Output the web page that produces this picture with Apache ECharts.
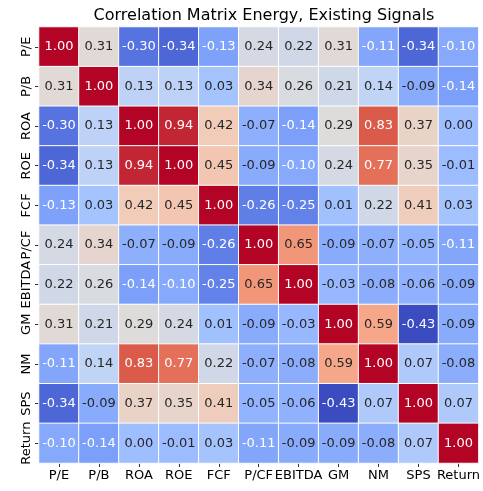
<!DOCTYPE html>
<html>
<head>
<meta charset="utf-8">
<script src="https://cdn.jsdelivr.net/npm/echarts@6/dist/echarts.min.js"></script>
<style>
  html, body { margin: 0; padding: 0; background: #fff; }
  #chart { width: 483px; height: 491px; }
</style>
</head>
<body>
<div id="chart"></div>
<script>
var labels = ["P/E", "P/B", "ROA", "ROE", "FCF", "P/CF", "EBITDA", "GM", "NM", "SPS", "Return"];

var rowPE     = [1.00, 0.31, -0.30, -0.34, -0.13, 0.24, 0.22, 0.31, -0.11, -0.34, -0.10];
var rowPB     = [0.31, 1.00, 0.13, 0.13, 0.03, 0.34, 0.26, 0.21, 0.14, -0.09, -0.14];
var rowROA    = [-0.30, 0.13, 1.00, 0.94, 0.42, -0.07, -0.14, 0.29, 0.83, 0.37, 0.00];
var rowROE    = [-0.34, 0.13, 0.94, 1.00, 0.45, -0.09, -0.10, 0.24, 0.77, 0.35, -0.01];
var rowFCF    = [-0.13, 0.03, 0.42, 0.45, 1.00, -0.26, -0.25, 0.01, 0.22, 0.41, 0.03];
var rowPCF    = [0.24, 0.34, -0.07, -0.09, -0.26, 1.00, 0.65, -0.09, -0.07, -0.05, -0.11];
var rowEBITDA = [0.22, 0.26, -0.14, -0.10, -0.25, 0.65, 1.00, -0.03, -0.08, -0.06, -0.09];
var rowGM     = [0.31, 0.21, 0.29, 0.24, 0.01, -0.09, -0.03, 1.00, 0.59, -0.43, -0.09];
var rowNM     = [-0.11, 0.14, 0.83, 0.77, 0.22, -0.07, -0.08, 0.59, 1.00, 0.07, -0.08];
var rowSPS    = [-0.34, -0.09, 0.37, 0.35, 0.41, -0.05, -0.06, -0.43, 0.07, 1.00, 0.07];
var rowReturn = [-0.10, -0.14, 0.00, -0.01, 0.03, -0.11, -0.09, -0.09, -0.08, 0.07, 1.00];

var rows = [rowPE, rowPB, rowROA, rowROE, rowFCF, rowPCF, rowEBITDA, rowGM, rowNM, rowSPS, rowReturn];

// coolwarm stops
var coolwarm = ["#3b4cc0", "#5977e3", "#7b9ff9", "#9ebeff", "#c0d4f5", "#dddcdc",
                "#f2cbb7", "#f7ac8e", "#ee8468", "#d65244", "#b40426"];

var data = [];
var vmin = Infinity, vmax = -Infinity;
rows.forEach(function(r) {
    r.forEach(function(v) {
        if (v < vmin) vmin = v;
        if (v > vmax) vmax = v;
    });
});
rows.forEach(function(r, i) {
    r.forEach(function(v, j) {
        var white = v <= -0.10 || v >= 0.75;
        data.push({
            value: [j, i, v],
            label: { color: white ? "#ffffff" : "#262626" }
        });
    });
});

var chart = echarts.init(document.getElementById("chart"));
var font = "DejaVu Sans";
chart.setOption({
    animation: false,
    title: {
        text: "Correlation Matrix Energy, Existing Signals",
        left: 259,
        top: 3,
        textAlign: "center",
        textStyle: { fontFamily: font, fontSize: 16, fontWeight: "normal", color: "#000" }
    },
    grid: { left: 39, right: 4, top: 27, bottom: 28 },
    xAxis: {
        type: "category",
        data: labels,
        axisLine: { show: false },
        axisTick: { show: true, alignWithLabel: true, length: 4, lineStyle: { color: "#333" } },
        axisLabel: { fontFamily: font, fontSize: 13, color: "#000", margin: 6, interval: 0 },
        splitLine: { show: false }
    },
    yAxis: {
        type: "category",
        data: labels,
        inverse: true,
        axisLine: { show: false },
        axisTick: { show: true, alignWithLabel: true, length: 4, lineStyle: { color: "#333" } },
        axisLabel: { fontFamily: font, fontSize: 13, color: "#000", margin: 6, rotate: 90, interval: 0 },
        splitLine: { show: false }
    },
    visualMap: {
        show: false,
        min: vmin,
        max: vmax,
        dimension: 2,
        inRange: { color: coolwarm }
    },
    series: [{
        type: "heatmap",
        data: data,
        itemStyle: { borderColor: "#ffffff", borderWidth: 1 },
        label: {
            show: true,
            fontFamily: font,
            fontSize: 13,
            formatter: function(p) { return p.value[2].toFixed(2); }
        }
    }]
});
</script>
</body>
</html>
